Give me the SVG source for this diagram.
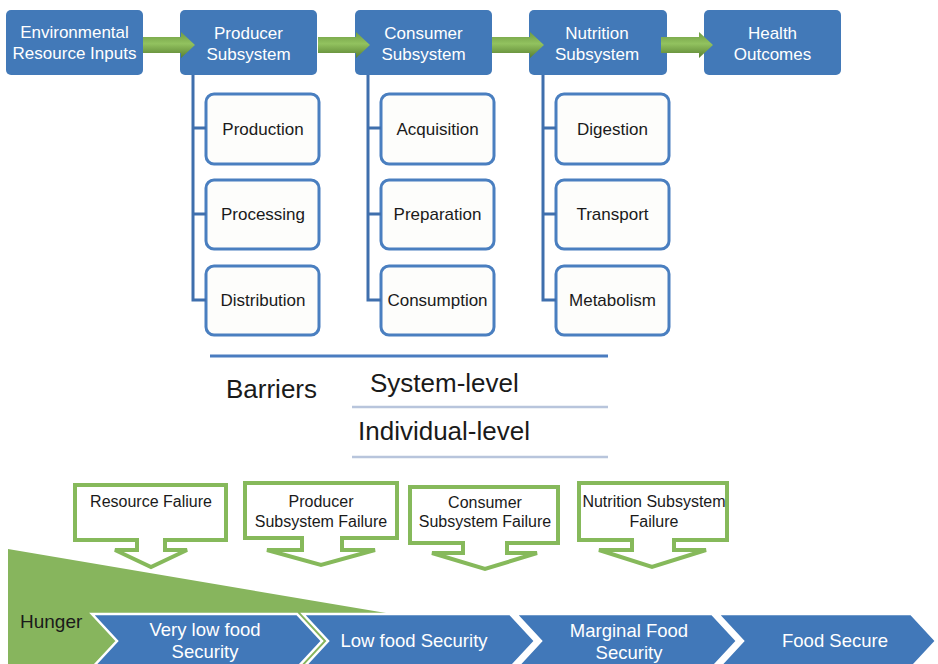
<svg xmlns="http://www.w3.org/2000/svg" width="938" height="664" viewBox="0 0 938 664">
<defs>
<linearGradient id="ag" x1="0" y1="0" x2="0" y2="1">
<stop offset="0" stop-color="#6f9c43"/>
<stop offset="0.45" stop-color="#92c25f"/>
<stop offset="1" stop-color="#587f30"/>
</linearGradient>
<path id="arr" d="M0,-8 H38 V-13 L52,0 L38,13 V8 H0 Z"/>
</defs>
<style>
.top{fill:#4279b8;}
.tt{font-family:"Liberation Sans",Arial,sans-serif;font-size:17px;fill:#ffffff;text-anchor:middle;}
.sub{fill:#fdfdfb;stroke:#4a7fc0;stroke-width:3;}
.st{font-family:"Liberation Sans",Arial,sans-serif;font-size:17px;fill:#1a1a1a;text-anchor:middle;}
.conn{fill:none;stroke:#3f6fad;stroke-width:3;}
.co{fill:#ffffff;stroke:#86b95b;stroke-width:4;}
.ct{font-family:"Liberation Sans",Arial,sans-serif;font-size:16px;fill:#1a1a1a;text-anchor:middle;}
.chev{fill:#4178b9;stroke:#ffffff;stroke-width:2.5;}
.cht{font-family:"Liberation Sans",Arial,sans-serif;font-size:18.5px;fill:#ffffff;text-anchor:middle;}
.bt{font-family:"Liberation Sans",Arial,sans-serif;font-size:26px;fill:#1a1a1a;}
</style>
<rect width="938" height="664" fill="#ffffff"/>

<g id="env"><rect class="top" x="6" y="10" width="137" height="65" rx="5"/><text class="tt" x="74.5" y="38">Environmental</text><text class="tt" x="74.5" y="59">Resource Inputs</text></g>
<g id="producer"><rect class="top" x="180" y="10" width="137" height="65" rx="5"/><text class="tt" x="248.5" y="39">Producer</text><text class="tt" x="248.5" y="60">Subsystem</text></g>
<g id="consumer"><rect class="top" x="355" y="10" width="137" height="65" rx="5"/><text class="tt" x="423.5" y="39">Consumer</text><text class="tt" x="423.5" y="60">Subsystem</text></g>
<g id="nutrition"><rect class="top" x="529" y="10" width="138" height="65" rx="5"/><text class="tt" x="597" y="39">Nutrition</text><text class="tt" x="597" y="60">Subsystem</text></g>
<g id="health"><rect class="top" x="704" y="10" width="137" height="65" rx="5"/><text class="tt" x="772.5" y="39">Health</text><text class="tt" x="772.5" y="60">Outcomes</text></g>

<g id="production"><rect class="sub" x="206" y="94" width="113" height="70" rx="8"/><text class="st" x="263" y="135">Production</text></g>
<g id="processing"><rect class="sub" x="206" y="180" width="113" height="69" rx="8"/><text class="st" x="263" y="220">Processing</text></g>
<g id="distribution"><rect class="sub" x="206" y="266" width="113" height="69" rx="8"/><text class="st" x="263" y="306">Distribution</text></g>
<g id="acquisition"><rect class="sub" x="381" y="94" width="113" height="70" rx="8"/><text class="st" x="437.5" y="135">Acquisition</text></g>
<g id="preparation"><rect class="sub" x="381" y="180" width="113" height="69" rx="8"/><text class="st" x="437.5" y="220">Preparation</text></g>
<g id="consumption"><rect class="sub" x="381" y="266" width="113" height="69" rx="8"/><text class="st" x="437.5" y="306">Consumption</text></g>
<g id="digestion"><rect class="sub" x="556" y="94" width="113" height="70" rx="8"/><text class="st" x="612.5" y="135">Digestion</text></g>
<g id="transport"><rect class="sub" x="556" y="180" width="113" height="69" rx="8"/><text class="st" x="612.5" y="220">Transport</text></g>
<g id="metabolism"><rect class="sub" x="556" y="266" width="113" height="69" rx="8"/><text class="st" x="612.5" y="306">Metabolism</text></g>

<g id="connectors">
<path class="conn" d="M193,75 V300 H206 M193,128 H206 M193,214 H206"/>
<path class="conn" d="M368,75 V300 H381 M368,128 H381 M368,214 H381"/>
<path class="conn" d="M543,75 V300 H556 M543,128 H556 M543,214 H556"/>
<use href="#arr" x="143" y="45" fill="url(#ag)"/>
<use href="#arr" x="318" y="45" fill="url(#ag)"/>
<use href="#arr" x="492" y="45" fill="url(#ag)"/>
<use href="#arr" x="661" y="45" fill="url(#ag)"/>
</g>

<g id="barriers">
<line x1="210" y1="356" x2="608" y2="356" stroke="#4a7cc0" stroke-width="3"/>
<text class="bt" x="226" y="398">Barriers</text>
<text class="bt" x="370" y="392">System-level</text>
<line x1="352" y1="407" x2="608" y2="407" stroke="#b8c5dc" stroke-width="2.5"/>
<text class="bt" x="358" y="440">Individual-level</text>
<line x1="352" y1="457" x2="608" y2="457" stroke="#b8c5dc" stroke-width="2.5"/>
</g>

<g id="hunger">
<polygon points="8,549 392,614 392,664 8,664" fill="#87b55d"/>
<text x="20" y="628" font-family="Liberation Sans, Arial, sans-serif" font-size="19" fill="#1a1a1a">Hunger</text>
</g>

<g id="very-low"><polygon class="chev" points="92,614 297,614 322,641 297,668 92,668 117,641"/><text class="cht" x="205" y="636">Very low food</text><text class="cht" x="205" y="658">Security</text></g>
<g id="low"><polygon class="chev" points="303,614 510,614 535,641 510,668 303,668 328,641"/><text class="cht" x="414" y="647">Low food Security</text></g>
<g id="marginal"><polygon class="chev" points="516,614 712,614 737,641 712,668 516,668 541,641"/><text class="cht" x="629" y="637">Marginal Food</text><text class="cht" x="629" y="659">Security</text></g>
<g id="secure"><polygon class="chev" points="718,614 911,614 936,641 911,668 718,668 743,641"/><text class="cht" x="835" y="647">Food Secure</text></g>

<g id="resource-failure"><path class="co" d="M75,485 H226 V540 H165 V550 H187 L151,567 L115,550 H137 V540 H75 Z"/><text class="ct" x="151" y="507">Resource Faliure</text></g>
<g id="producer-failure"><path class="co" d="M245,483 H397 V538 H342 V550 H375 L321,565 L267,550 H302 V538 H245 Z"/><text class="ct" x="321" y="507">Producer</text><text class="ct" x="321" y="527">Subsystem Failure</text></g>
<g id="consumer-failure"><path class="co" d="M410,487 H558 V543 H507 V553 H537 L485,569 L432,553 H463 V543 H410 Z"/><text class="ct" x="485" y="508">Consumer</text><text class="ct" x="485" y="527">Subsystem Failure</text></g>
<g id="nutrition-failure"><path class="co" d="M579,483 H727 V540 H674 V550 H706 L652,567 L599,550 H632 V540 H579 Z"/><text class="ct" x="654" y="507">Nutrition Subsystem</text><text class="ct" x="654" y="527">Failure</text></g>
</svg>
